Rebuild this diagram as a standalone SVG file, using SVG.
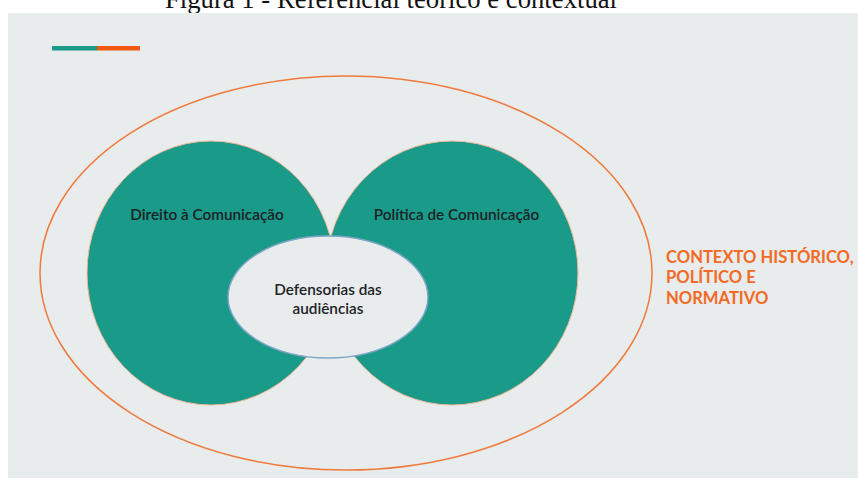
<svg xmlns="http://www.w3.org/2000/svg" width="858" height="479" viewBox="0 0 858 479">
  <style>
    .caption { font-family: "Liberation Serif", "Times New Roman", serif; font-size: 26.7px; fill: #111; }
    .label { font-family: Lato, "Open Sans", sans-serif; font-size: 15.3px; font-weight: 600; fill: #1c2226; }
    .context { font-family: Lato, "Open Sans", sans-serif; font-size: 16.6px; font-weight: 700; fill: #f26a24; }
    .circle { fill: #1a9a88; stroke: #f1b99a; stroke-width: 1; }
    .core { fill: #e8ecec; stroke: #7fa6c8; stroke-width: 1.5; }
  </style>

  <rect x="0" y="0" width="858" height="479" fill="#ffffff"/>
  <text class="caption" x="391" y="8" text-anchor="middle">Figura 1 - Referencial teórico e contextual</text>

  <!-- panel background -->
  <rect x="8" y="13" width="850" height="465" fill="#e8ecec"/>

  <!-- accent bar -->
  <rect x="52" y="46" width="45" height="4.5" fill="#1a9a88"/>
  <rect x="97" y="46" width="43" height="4.5" fill="#f05a0e"/>

  <!-- outer context ellipse -->
  <g id="contexto">
    <ellipse cx="346" cy="273" rx="306" ry="197" fill="none" stroke="#f07a3c" stroke-width="1.5"/>
    <text class="context" x="666" y="263">CONTEXTO HISTÓRICO,</text>
    <text class="context" x="666" y="283">POLÍTICO E</text>
    <text class="context" x="666" y="304">NORMATIVO</text>
  </g>

  <g id="direito">
    <ellipse class="circle" cx="211" cy="273" rx="124" ry="132"/>
    <text class="label" x="207" y="220" text-anchor="middle">Direito à Comunicação</text>
  </g>

  <g id="politica">
    <ellipse class="circle" cx="452" cy="273" rx="126" ry="132"/>
    <text class="label" x="456.5" y="220" text-anchor="middle">Política de Comunicação</text>
  </g>

  <g id="defensorias">
    <ellipse class="core" cx="328" cy="297" rx="100" ry="61"/>
    <text class="label" x="328" y="295" text-anchor="middle">Defensorias das</text>
    <text class="label" x="328" y="314" text-anchor="middle">audiências</text>
  </g>
</svg>
